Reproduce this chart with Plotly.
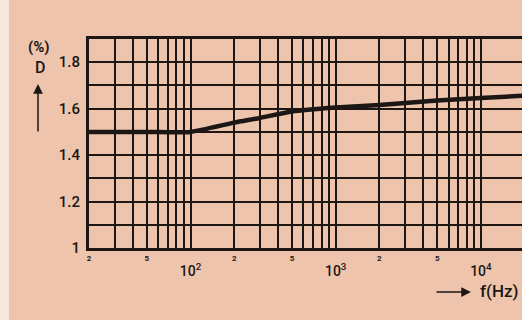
import plotly.graph_objects as go

# distortion curve
freq_hz = [20, 50, 100, 200, 300, 500, 1000, 2000, 5000, 10000, 20000]
distortion_pct = [1.5, 1.5, 1.5, 1.54, 1.56, 1.588, 1.605, 1.616, 1.635, 1.646, 1.656]

# log grid: 2..9 of each decade
grid_freqs = [m * 10 ** e for e in (1, 2, 3, 4) for m in range(1, 10)]
grid_freqs = [f for f in grid_freqs if 20 <= f <= 20000]
minor_labels = {2: "2", 5: "5"}
grid_text = [minor_labels.get(int(str(f)[0]), "") for f in grid_freqs]

decade_vals = [100, 1000, 10000]
decade_text = ["10<sup>2</sup>", "10<sup>3</sup>", "10<sup>4</sup>"]

y_vals = [1.0, 1.1, 1.2, 1.3, 1.4, 1.5, 1.6, 1.7, 1.8, 1.9]
y_text = ["1", "", "1.2", "", "1.4", "", "1.6", "", "1.8", ""]

BG = "#efc4ac"
INK = "#1c1714"
x_range = [1.301, 4.283]

fig = go.Figure()
fig.add_trace(
    go.Scatter(
        x=freq_hz,
        y=distortion_pct,
        mode="lines",
        line=dict(color=INK, width=4.5, shape="spline", smoothing=0.6),
        showlegend=False,
        hoverinfo="skip",
    )
)
# invisible trace to carry the decade labels
fig.add_trace(
    go.Scatter(x=decade_vals, y=[1, 1, 1], xaxis="x2", mode="none", showlegend=False, hoverinfo="skip")
)

fig.update_layout(
    width=522,
    height=320,
    paper_bgcolor=BG,
    plot_bgcolor=BG,
    margin=dict(l=89, r=0, t=39, b=72),
    font=dict(family="Roboto", color=INK),
    xaxis=dict(
        type="log",
        range=x_range,
        tickvals=grid_freqs,
        ticktext=grid_text,
        tickfont=dict(size=8, color=INK, weight="bold"),
        ticks="",
        showgrid=True,
        gridcolor=INK,
        gridwidth=1.6,
        showline=True,
        linecolor=INK,
        linewidth=2.5,
        mirror=True,
        zeroline=False,
        ticklabelstandoff=1,
    ),
    xaxis2=dict(
        type="log",
        range=x_range,
        overlaying="x",
        anchor="y",
        side="bottom",
        tickvals=decade_vals,
        ticktext=decade_text,
        tickfont=dict(size=14, color=INK, weight=500),
        ticks="",
        showgrid=False,
        showline=False,
        zeroline=False,
        ticklabelstandoff=13,
    ),
    yaxis=dict(
        range=[1, 1.9],
        tickvals=y_vals,
        ticktext=y_text,
        tickfont=dict(size=15, color=INK, weight=500),
        ticks="",
        showgrid=True,
        gridcolor=INK,
        gridwidth=1.6,
        showline=True,
        linecolor=INK,
        linewidth=3,
        zeroline=False,
        ticklabelstandoff=3,
    ),
    shapes=[
        dict(type="rect", xref="paper", yref="paper", x0=-89 / 433, x1=-80 / 433,
             y0=-72 / 209, y1=281 / 209, fillcolor="#f7e6dc", line=dict(width=0), layer="below"),
    ],
    annotations=[
        dict(text="(%)", xref="paper", yref="paper", x=-50 / 433, y=(248 - 47) / 209,
             xanchor="center", yanchor="middle", showarrow=False,
             font=dict(size=15, color=INK, weight="bold")),
        dict(text="D", xref="paper", yref="paper", x=-49 / 433, y=(248 - 68) / 209,
             xanchor="center", yanchor="middle", showarrow=False,
             font=dict(size=16, color=INK, weight=500)),
        dict(text="", xref="paper", yref="paper", x=-51 / 433, y=(248 - 84) / 209,
             ax=0, ay=49, showarrow=True, arrowhead=2, arrowsize=1.3, arrowwidth=1.5,
             arrowcolor=INK),
        dict(text="", xref="paper", yref="paper", x=(471 - 89) / 433, y=(248 - 292) / 209,
             ax=-36, ay=0, showarrow=True, arrowhead=2, arrowsize=1.3, arrowwidth=1.5,
             arrowcolor=INK),
        dict(text="f(Hz)", xref="paper", yref="paper", x=(478 - 89) / 433, y=(248 - 291) / 209,
             xanchor="left", yanchor="middle", showarrow=False,
             font=dict(size=17, color=INK, weight=500)),
    ],
)

fig.write_html(
    "out.html",
    config={"displayModeBar": False},
    post_script="document.body.style.margin='0';",
)
